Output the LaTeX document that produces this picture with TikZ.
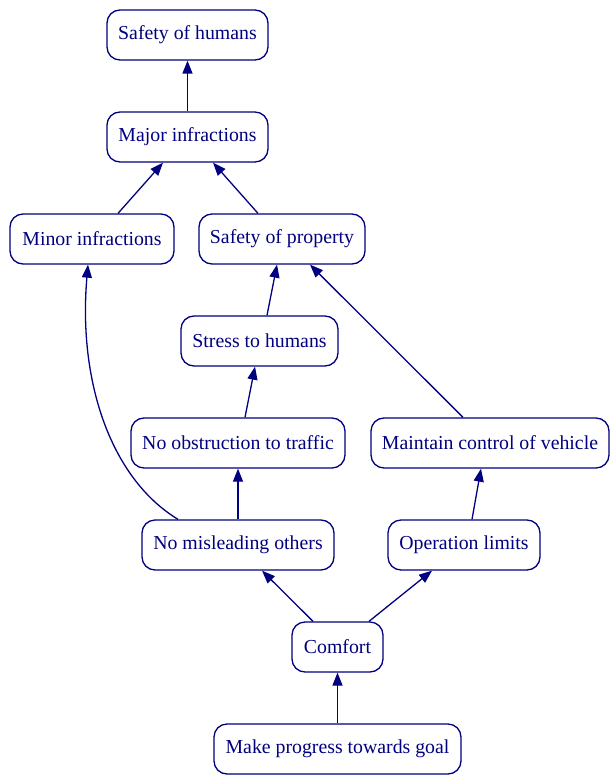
\documentclass[tikz,border=0pt]{standalone}
\usepackage{fontspec}
\setmainfont{Liberation Serif}
\usetikzlibrary{arrows.meta}
\definecolor{navy}{RGB}{0,0,128}
\tikzset{
  box/.style={draw=navy, line width=1.3pt, rounded corners=13pt, fill=white, text=navy,
    minimum height=50pt, inner xsep=8pt, font=\fontsize{19.8}{21}\selectfont, anchor=center},
  conn/.style={draw=navy, line width=1.3pt, -{Triangle[length=13pt,width=10pt]}}
}
\begin{document}
\begin{tikzpicture}[x=1pt,y=-1pt]
\useasboundingbox (0,0) rectangle (610,775);
\node[box, minimum width=161pt] (sh) at (187.5,35) {Safety of humans};
\node[box, minimum width=161pt] (mi) at (187.5,137) {Major infractions};
\node[box, minimum width=164pt] (mn) at (92,239) {Minor infractions};
\node[box, minimum width=166pt] (sp) at (282,239) {Safety of property};
\node[box, minimum width=157pt] (st) at (259.5,341) {Stress to humans};
\node[box, minimum width=214pt] (no) at (238,443) {No obstruction to traffic};
\node[box, minimum width=238pt] (mc) at (490,443) {Maintain control of vehicle};
\node[box, minimum width=192pt] (nm) at (238,545) {No misleading others};
\node[box, minimum width=152pt] (ol) at (464,545) {Operation limits};
\node[box, minimum width=91pt] (co) at (337.5,647) {Comfort};
\node[box, minimum width=247pt] (mp) at (337.5,749) {Make progress towards goal};

\draw[conn] (mi.north) -- (sh.south);
\draw[conn] (mn.north -| 118,0) -- (mi.south -| 163,0);
\draw[conn] (sp.north -| 258,0) -- (mi.south -| 213,0);
\draw[conn] (st.north -| 267,0) -- (sp.south -| 277,0);
\draw[conn] (mc.north -| 463,0) -- (sp.south -| 310,0);
\draw[conn] (no.north -| 245,0) -- (st.south -| 255,0);
\draw[conn] (nm.north -| 178,0) .. controls (110,478) and (78,380) .. (mn.south -| 88,0);
\draw[conn] (nm.north) -- (no.south);
\draw[conn] (ol.north -| 472,0) -- (mc.south -| 481,0);
\draw[conn] (co.north -| 313,0) -- (nm.south -| 262,0);
\draw[conn] (co.north -| 369,0) -- (ol.south -| 432,0);
\draw[conn] (mp.north) -- (co.south);
\end{tikzpicture}
\end{document}
